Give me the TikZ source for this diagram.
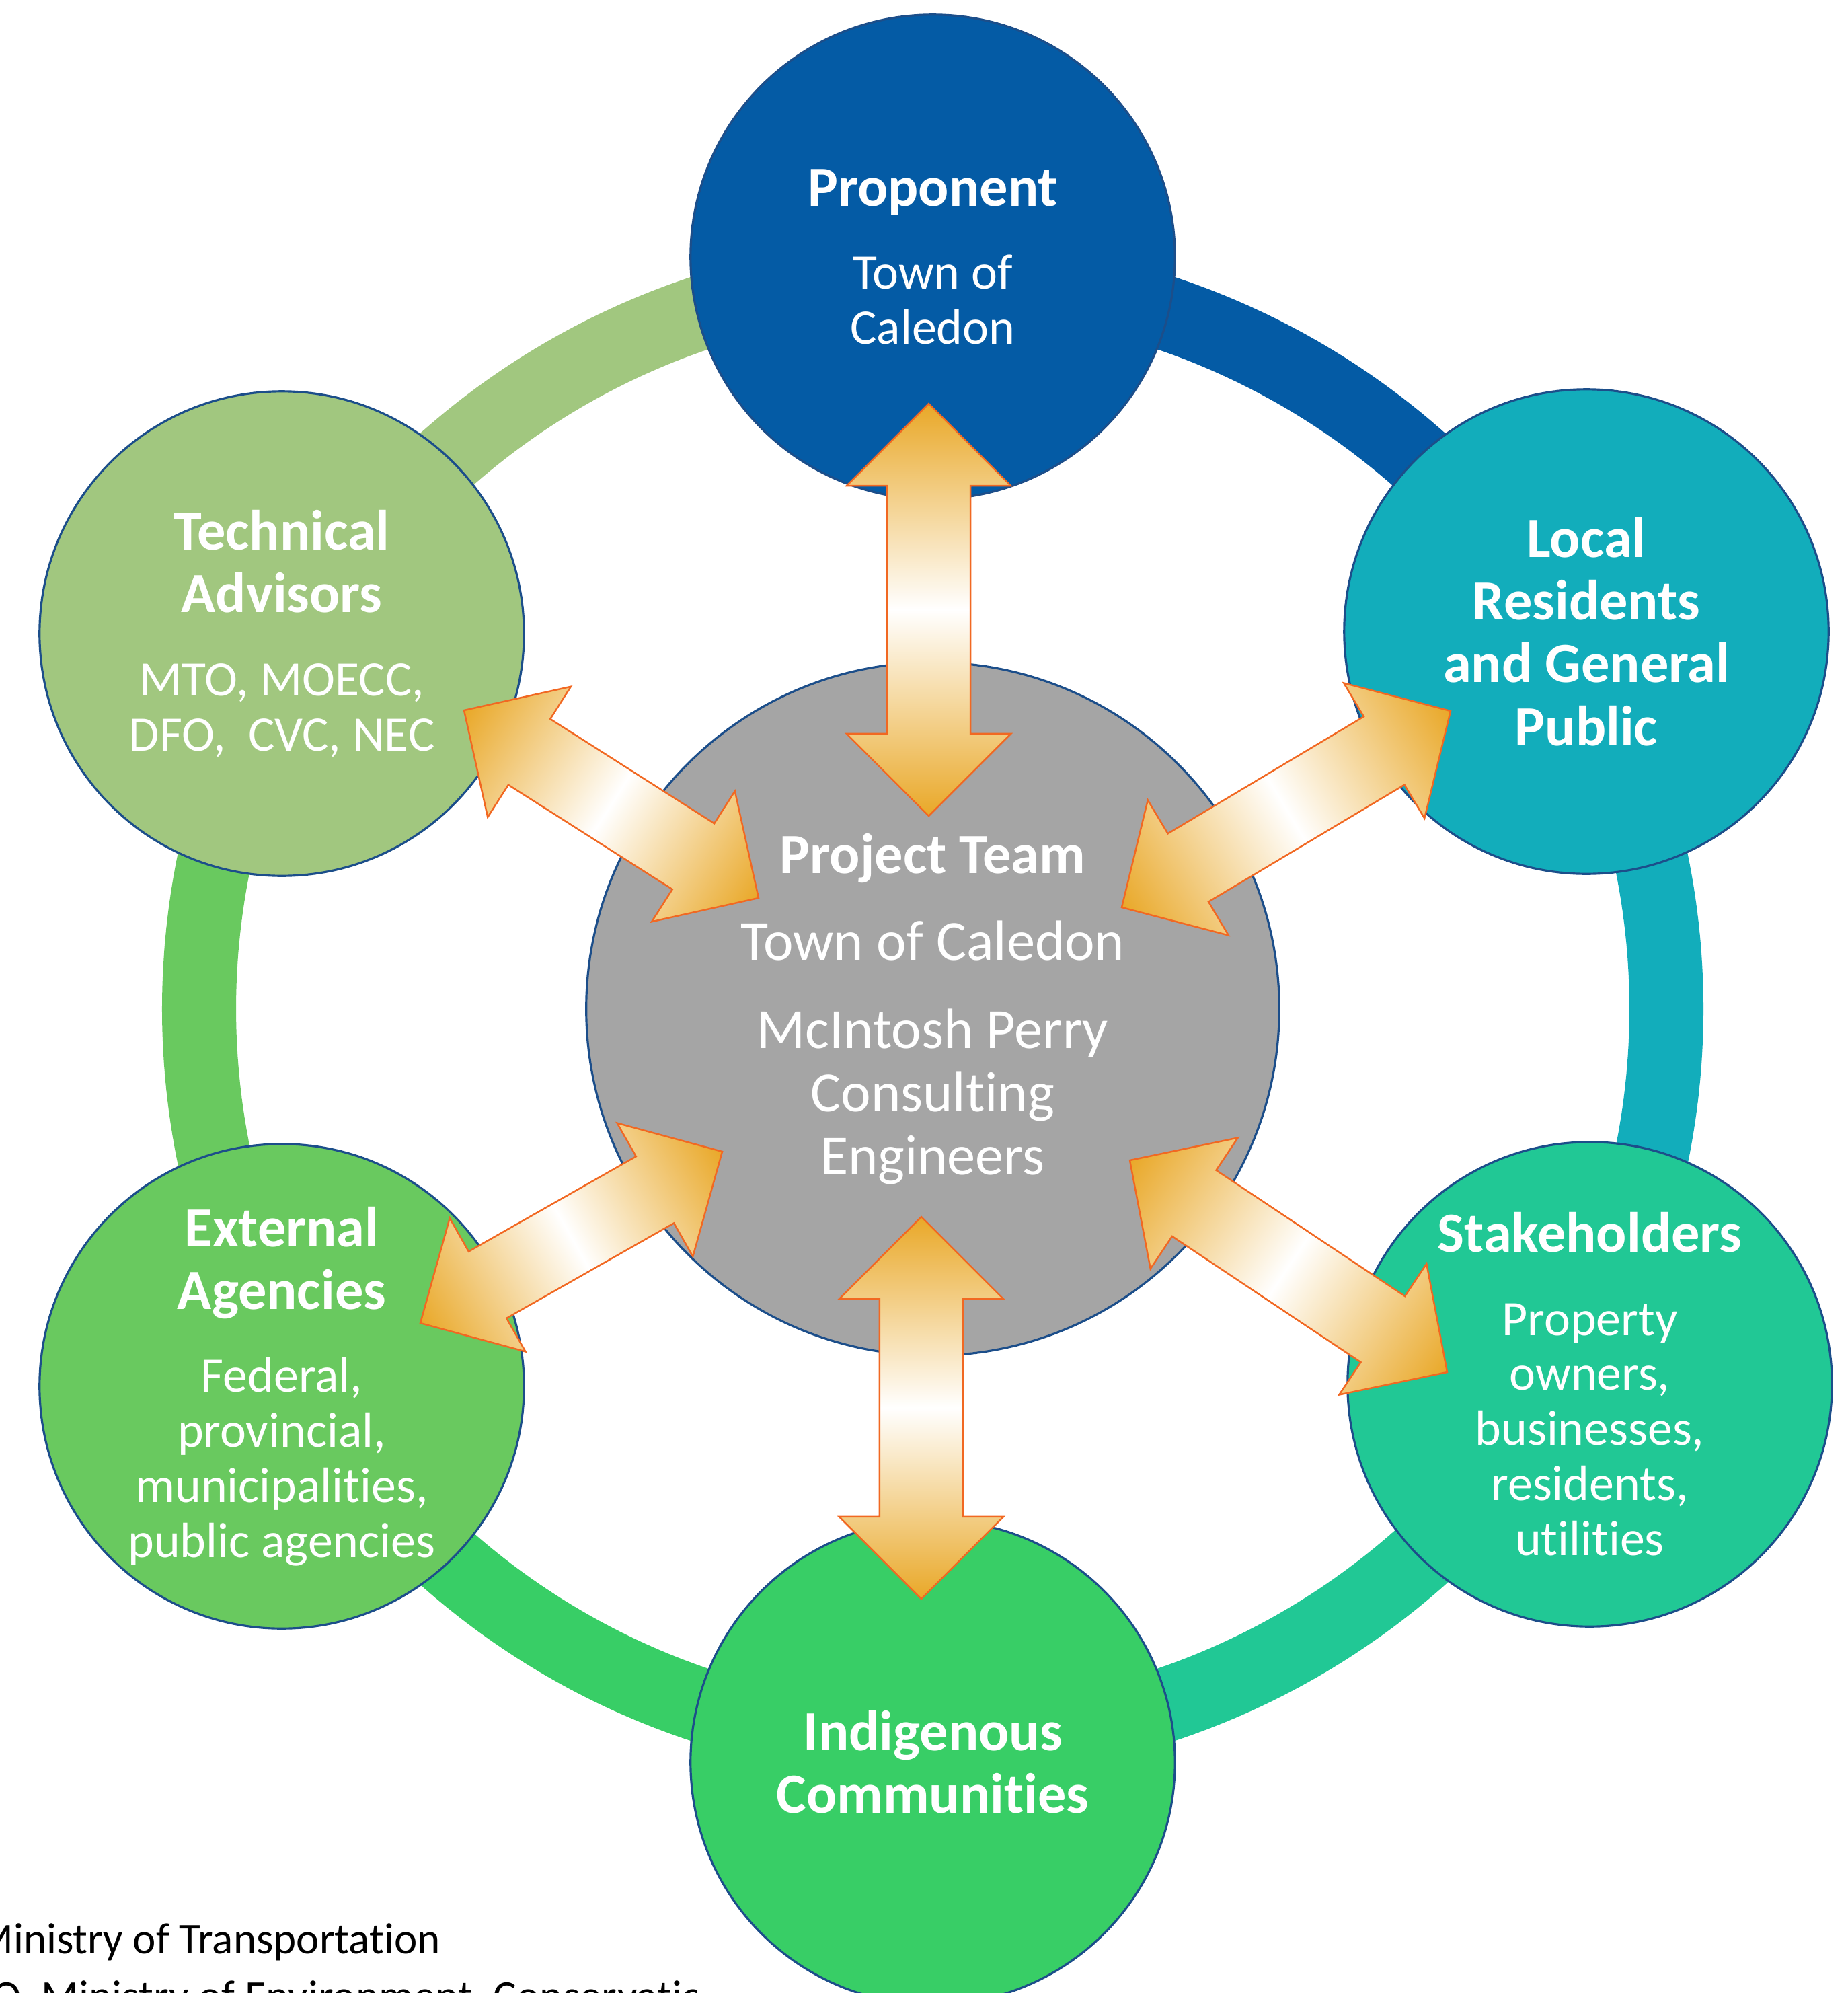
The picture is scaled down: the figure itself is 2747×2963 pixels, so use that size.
\documentclass[tikz,border=0pt]{standalone}
\usepackage{fontspec}
\setmainfont{Carlito}[Ligatures=NoCommon]
\XeTeXinterchartokenstate=1
\newXeTeXintercharclass\myTclass
\newXeTeXintercharclass\myIclass
\XeTeXcharclass`\t=\myTclass
\XeTeXcharclass`\i=\myIclass
\XeTeXinterchartoks\myTclass\myIclass={\kern0pt }
\usetikzlibrary{calc}
\definecolor{cProp}{RGB}{4,91,165}
\definecolor{cLocal}{RGB}{18,173,187}
\definecolor{cStake}{RGB}{33,200,149}
\definecolor{cIndig}{RGB}{56,206,102}
\definecolor{cExt}{RGB}{105,201,95}
\definecolor{cTech}{RGB}{161,199,127}
\definecolor{cTeam}{RGB}{165,165,165}
\definecolor{cEdge}{RGB}{28,78,138}
\definecolor{cArrow}{RGB}{233,168,40}
\definecolor{cArrowLine}{RGB}{241,104,34}
\newcommand{\ttl}[1]{{\bfseries\fontsize{24}{26.5}\selectfont #1}}
% double block arrow between two named coordinates
% #1 start, #2 end, #3 head length (cm), #4 head half width (cm), #5 shaft half width (cm)
\newcommand{\dblarrow}[5]{%
  \path (#1); \pgfgetlastxy{\arax}{\aray}%
  \path (#2); \pgfgetlastxy{\arbx}{\arby}%
  \pgfmathsetmacro{\arang}{atan2(\arby-\aray,\arbx-\arax)}%
  \pgfmathsetmacro{\arlen}{veclen(\arbx-\arax,\arby-\aray)}%
  \begin{scope}[transform canvas={shift={(\arax,\aray)},rotate=\arang}]
    \path[dblarr] (0pt,0pt) -- (#3cm,#4cm) -- (#3cm,#5cm)
      -- ($(\arlen pt,#5cm)-(#3cm,0pt)$) -- ($(\arlen pt,#4cm)-(#3cm,0pt)$)
      -- (\arlen pt,0pt)
      -- ($(\arlen pt,-#4cm)-(#3cm,0pt)$) -- ($(\arlen pt,-#5cm)-(#3cm,0pt)$)
      -- (#3cm,-#5cm) -- (#3cm,-#4cm) -- cycle;
  \end{scope}}
\tikzset{
  party/.style={circle, draw=cEdge, line width=0.9pt, minimum size=7.2cm,
    inner sep=0pt, text=white, align=center, font=\fontsize{21}{23.3}\selectfont},
  ringseg/.style={line width=1.1cm},
  dblarr/.style={draw=cArrowLine, line width=0.7pt, left color=cArrow,
    right color=cArrow, middle color=white},
  note/.style={anchor=base west, inner sep=0pt, font=\fontsize{18.5}{21}\selectfont, text=black}
}
\begin{document}
\begin{tikzpicture}[x=0.01cm,y=-0.01cm]
\useasboundingbox (0,0) rectangle (2747,2963);
\clip (0,0) rectangle (2747,2963);
\coordinate (ctr) at (1387,1500);
% ring segments
\draw[ringseg, cProp]  (ctr) ++(-90:1091) arc[start angle=-90, end angle=-30, radius=1091];
\draw[ringseg, cLocal] (ctr) ++(-30:1091) arc[start angle=-30, end angle=30, radius=1091];
\draw[ringseg, cStake] (ctr) ++(30:1091)  arc[start angle=30, end angle=90, radius=1091];
\draw[ringseg, cIndig] (ctr) ++(90:1091)  arc[start angle=90, end angle=150, radius=1091];
\draw[ringseg, cExt]   (ctr) ++(150:1091) arc[start angle=150, end angle=210, radius=1091];
\draw[ringseg, cTech]  (ctr) ++(210:1091) arc[start angle=210, end angle=270, radius=1091];
% footnotes
\node[note] (n1) at (-36,2904) {Ministry of Transportation};
\begin{scope}
\clip (0,2800) rectangle (1035,2963);
\node[note] (n2) at (-12,2989) {O. Ministry of Environment, Conservation and Parks};
\end{scope}
% outer circles
\node[party, fill=cProp] (prop) at (1387,382)
  {\ttl{Proponent}\\[11.7pt] Town of\\ Caledon};
\node[party, fill=cLocal] (local) at (2359,939)
  {\ttl{Local}\\[3.2pt]\ttl{Residents}\\[3.2pt]\ttl{and General}\\[3.2pt]\ttl{Public}};
\node[party, fill=cStake] (stake) at (2364,2058)
  {\ttl{Stakeholders}\\[11.7pt] Property\\ owners,\\ businesses,\\ residents,\\ utilities};
\node[party, fill=cIndig] (indig) at (1387,2620)
  {\ttl{Indigenous}\\[3.2pt]\ttl{Communities}};
\node[party, fill=cExt] (ext) at (419,2061)
  {\ttl{External}\\[3.2pt]\ttl{Agencies}\\[11.7pt] Federal,\\ provincial,\\ municipalities,\\ public agencies};
\node[party, fill=cTech] (tech) at (419,942)
  {\ttl{Technical}\\[3.2pt]\ttl{Advisors}\\[11.7pt] MTO, MOECC,\\ DFO,~~CVC, NEC};
% centre
\node[party, fill=cTeam, minimum size=10.3cm, font=\fontsize{24}{26.7}\selectfont] (team) at (ctr)
  {{\bfseries Project Team}\\[10pt] Town of Caledon\\[10.5pt] McIntosh Perry\\ Consulting\\ Engineers};
% arrow end points
\coordinate (aP1) at (1381,600);  \coordinate (aP2) at (1381,1213);
\coordinate (aI1) at (1370,1809); \coordinate (aI2) at (1370,2377);
\coordinate (aT1) at (690,1056);  \coordinate (aT2) at (1128,1335);
\coordinate (aL1) at (1668,1349); \coordinate (aL2) at (2157,1057);
\coordinate (aS1) at (1680,1725); \coordinate (aS2) at (2152,2040);
\coordinate (aE1) at (1074,1712); \coordinate (aE2) at (625,1967);
\dblarrow{aP1}{aP2}{1.22}{1.22}{0.62}
\dblarrow{aI1}{aI2}{1.22}{1.22}{0.62}
\dblarrow{aT1}{aT2}{1.15}{1.15}{0.58}
\dblarrow{aL1}{aL2}{1.15}{1.17}{0.59}
\dblarrow{aS1}{aS2}{1.15}{1.17}{0.59}
\dblarrow{aE1}{aE2}{1.15}{1.14}{0.57}
\end{tikzpicture}
\end{document}
